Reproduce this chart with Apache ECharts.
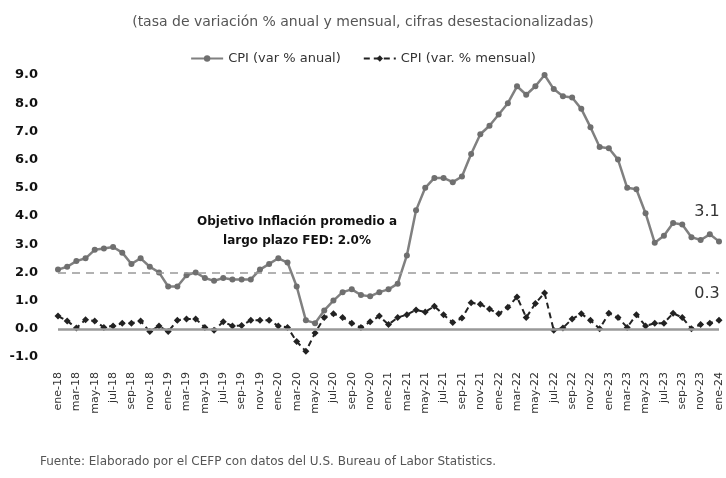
<!DOCTYPE html>
<html>
<head>
<meta charset="utf-8">
<script src="https://cdn.jsdelivr.net/npm/echarts@6/dist/echarts.min.js"></script>
<style>
  html, body { margin: 0; padding: 0; background: #fff; }
  #chart { width: 726px; height: 478px; }
</style>
</head>
<body>
<div id="chart"></div>
<script>
// meses ene-18 ... ene-24
const meses = ['ene', 'feb', 'mar', 'abr', 'may', 'jun', 'jul', 'ago', 'sep', 'oct', 'nov', 'dic'];
const categorias = [];
for (let a = 18; a <= 24; a++) {
    for (let m = 0; m < 12; m++) {
        if (a === 24 && m > 0) break;
        categorias.push(meses[m] + '-' + a);
    }
}

// CPI variacion % anual
const cpiAnual = [
    2.1, 2.2, 2.4, 2.5, 2.8, 2.85, 2.9, 2.7, 2.3, 2.5, 2.2, 2.0,
    1.5, 1.5, 1.9, 2.0, 1.8, 1.7, 1.8, 1.75, 1.75, 1.75, 2.1, 2.3,
    2.5, 2.35, 1.5, 0.3, 0.2, 0.65, 1.0, 1.3, 1.4, 1.2, 1.15, 1.3,
    1.4, 1.6, 2.6, 4.2, 5.0, 5.35, 5.35, 5.2, 5.4, 6.2, 6.9, 7.2,
    7.6, 8.0, 8.6, 8.3, 8.6, 9.0, 8.5, 8.25, 8.2, 7.8, 7.15, 6.45,
    6.4, 6.0, 5.0, 4.95, 4.1, 3.05, 3.3, 3.75, 3.7, 3.25, 3.15, 3.35,
    3.1
];

// CPI variacion % mensual
const cpiMensual = [
    0.45, 0.28, 0.03, 0.32, 0.28, 0.05, 0.1, 0.2, 0.2, 0.28, -0.1, 0.1,
    -0.1, 0.3, 0.35, 0.35, 0.05, -0.05, 0.25, 0.1, 0.12, 0.3, 0.3, 0.3,
    0.1, 0.05, -0.45, -0.8, -0.15, 0.4, 0.53, 0.4, 0.2, 0.05, 0.25, 0.45,
    0.15, 0.4, 0.5, 0.67, 0.6, 0.8, 0.5, 0.22, 0.38, 0.92, 0.87, 0.7,
    0.53, 0.76, 1.13, 0.4, 0.9, 1.27, -0.05, 0.03, 0.35, 0.53, 0.3, 0.0,
    0.55, 0.4, 0.05, 0.5, 0.1, 0.2, 0.2, 0.55, 0.4, 0.0, 0.15, 0.2,
    0.3
];

const objetivoFed = 2.0;
const fuente = 'Fuente: Elaborado por el CEFP con datos del U.S. Bureau of Labor Statistics.';
const fuenteTexto = 'DejaVu Sans';

const myChart = echarts.init(document.getElementById('chart'));
const ultimo = categorias.length - 1;

const option = {
    animation: false,
    textStyle: { fontFamily: fuenteTexto },
    title: {
        text: '(tasa de variación % anual y mensual, cifras desestacionalizadas)',
        left: 'center',
        top: 10,
        textStyle: { color: '#555', fontSize: 14, fontWeight: 'normal', fontFamily: fuenteTexto }
    },
    legend: {
        top: 47,
        left: 'center',
        itemGap: 22,
        itemWidth: 32,
        itemHeight: 8,
        textStyle: { color: '#333', fontSize: 13 },
        data: ['CPI (var % anual)', 'CPI (var. % mensual)']
    },
    grid: { left: 58, right: 7, top: 75, bottom: 121 },
    xAxis: {
        type: 'category',
        data: categorias,
        boundaryGap: false,
        axisLine: { show: false },
        axisTick: { show: false },
        axisLabel: {
            interval: 1,
            rotate: 90,
            color: '#333',
            fontSize: 11,
            margin: 15
        }
    },
    yAxis: {
        type: 'value',
        min: -1,
        max: 9,
        interval: 1,
        splitLine: { show: false },
        axisLine: { show: false },
        axisTick: { show: false },
        axisLabel: {
            color: '#111',
            fontSize: 13,
            fontWeight: 'bold',
            margin: 20,
            formatter: v => v.toFixed(1)
        }
    },
    graphic: [
        {
            type: 'text',
            x: 297,
            y: 212,
            style: {
                text: 'Objetivo Inflación promedio a\nlargo plazo FED: 2.0%',
                textAlign: 'center',
                fontSize: 12,
                fontWeight: 'bold',
                lineHeight: 19,
                fill: '#111',
                fontFamily: fuenteTexto
            }
        },
        {
            type: 'text',
            left: 40,
            top: 456,
            style: {
                text: fuente,
                fontSize: 12,
                fill: '#555',
                fontFamily: fuenteTexto
            }
        }
    ],
    series: [
        {
            name: 'CPI (var % anual)',
            type: 'line',
            data: cpiAnual,
            showAllSymbol: true,
            symbol: 'circle',
            symbolSize: 6,
            lineStyle: { color: '#808080', width: 2.5 },
            itemStyle: { color: '#6f6f6f' },
            label: {
                show: true,
                formatter: p => (p.dataIndex === ultimo ? p.value.toFixed(1) : ''),
                position: 'top',
                offset: [-12, -14],
                fontSize: 16,
                color: '#333'
            },
            markLine: {
                silent: true,
                symbol: 'none',
                label: { show: false },
                data: [
                    { yAxis: objetivoFed, lineStyle: { color: '#999', type: [8, 6], width: 1.5 } },
                    { yAxis: 0, lineStyle: { color: '#999', type: 'solid', width: 2.5 } }
                ]
            },
            z: 3
        },
        {
            name: 'CPI (var. % mensual)',
            type: 'line',
            data: cpiMensual,
            showAllSymbol: true,
            symbol: 'diamond',
            symbolSize: 7,
            lineStyle: { color: '#222', width: 2, type: [6, 4] },
            itemStyle: { color: '#222' },
            label: {
                show: true,
                formatter: p => (p.dataIndex === ultimo ? p.value.toFixed(1) : ''),
                position: 'top',
                offset: [-12, -10],
                fontSize: 16,
                color: '#333'
            },
            z: 4
        }
    ]
};

myChart.setOption(option);
</script>
</body>
</html>
